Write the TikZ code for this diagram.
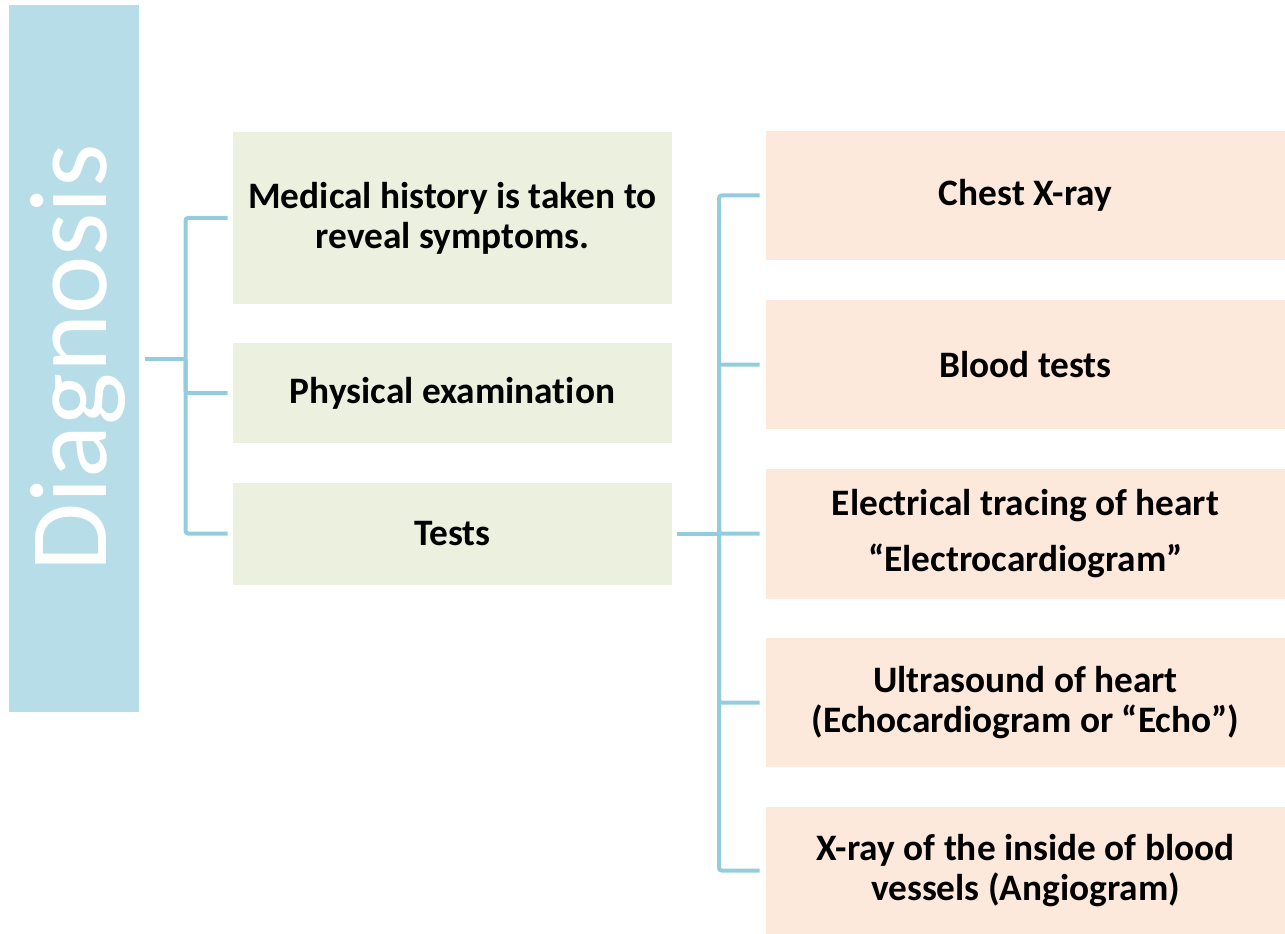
\documentclass[tikz,border=0pt]{standalone}
\usepackage{fontspec}
\setmainfont{Carlito}[Ligatures={NoCommon}]
\definecolor{diagblue}{HTML}{B7DEE8}
\definecolor{greenbox}{HTML}{EBF1DE}
\definecolor{orangebox}{HTML}{FCE9DB}
\definecolor{connblue}{HTML}{93CDDD}
\begin{document}
\begin{tikzpicture}[x=0.75pt,y=-0.75pt,
  box/.style={draw=none,inner sep=0pt,align=center,anchor=center,
    font=\bfseries\fontsize{28}{30}\selectfont,text=black},
  gbox/.style={box,fill=greenbox,minimum width=439*0.75pt},
  obox/.style={box,fill=orangebox,minimum width=519*0.75pt},
  conn/.style={draw=connblue,line width=3pt,rounded corners=2pt}]
\useasboundingbox (0,0) rectangle (1285,934);
\node[fill=diagblue,inner sep=0pt,minimum width=130*0.75pt,minimum height=707*0.75pt] (diag) at (74,358.5) {};
\node[rotate=90,anchor=base,inner sep=0pt,text=white,font=\fontsize{83}{90}\selectfont] (diagtext) at (106,358) {Diagnosis};
\node[gbox,minimum height=172*0.75pt] (g1) at (452.5,218) {Medical history is taken to\\reveal symptoms.};
\node[gbox,minimum height=100*0.75pt] (g2) at (452.5,393) {Physical examination};
\node[gbox,minimum height=102*0.75pt] (g3) at (452.5,533.5) {Tests};
\node[obox,minimum height=129*0.75pt] (o1) at (1025.5,195.5) {Chest X-ray};
\node[obox,minimum height=129*0.75pt] (o2) at (1025.5,364.5) {Blood tests};
\node[obox,minimum height=130*0.75pt] (o3) at (1025.5,533.5) {Electrical tracing of heart\\[12pt]“Electrocardiogram”};
\node[obox,minimum height=129*0.75pt] (o4) at (1025.5,702.5) {Ultrasound of heart\\(Echocardiogram or “Echo”)};
\node[obox,minimum height=127*0.75pt] (o5) at (1025.5,870.5) {X-ray of the inside of blood\\vessels (Angiogram)};
\coordinate (b1) at (185.5,358.5);
\coordinate (b2) at (719,533.5);
\draw[conn] ([xshift=4.5pt]diag.east) -- (b1);
\draw[conn] (b1) |- ([xshift=-3.75pt]g1.west);
\draw[conn] (b1) |- ([xshift=-3.75pt]g2.west);
\draw[conn] (b1) |- ([xshift=-3.75pt]g3.west);
\draw[conn] ([xshift=3.75pt]g3.east) -- (b2);
\draw[conn] (b2) |- ([xshift=-4.5pt]o1.west);
\draw[conn] (b2) |- ([xshift=-4.5pt]o2.west);
\draw[conn] (b2) |- ([xshift=-4.5pt]o3.west);
\draw[conn] (b2) |- ([xshift=-4.5pt]o4.west);
\draw[conn] (b2) |- ([xshift=-4.5pt]o5.west);
\end{tikzpicture}
\end{document}
